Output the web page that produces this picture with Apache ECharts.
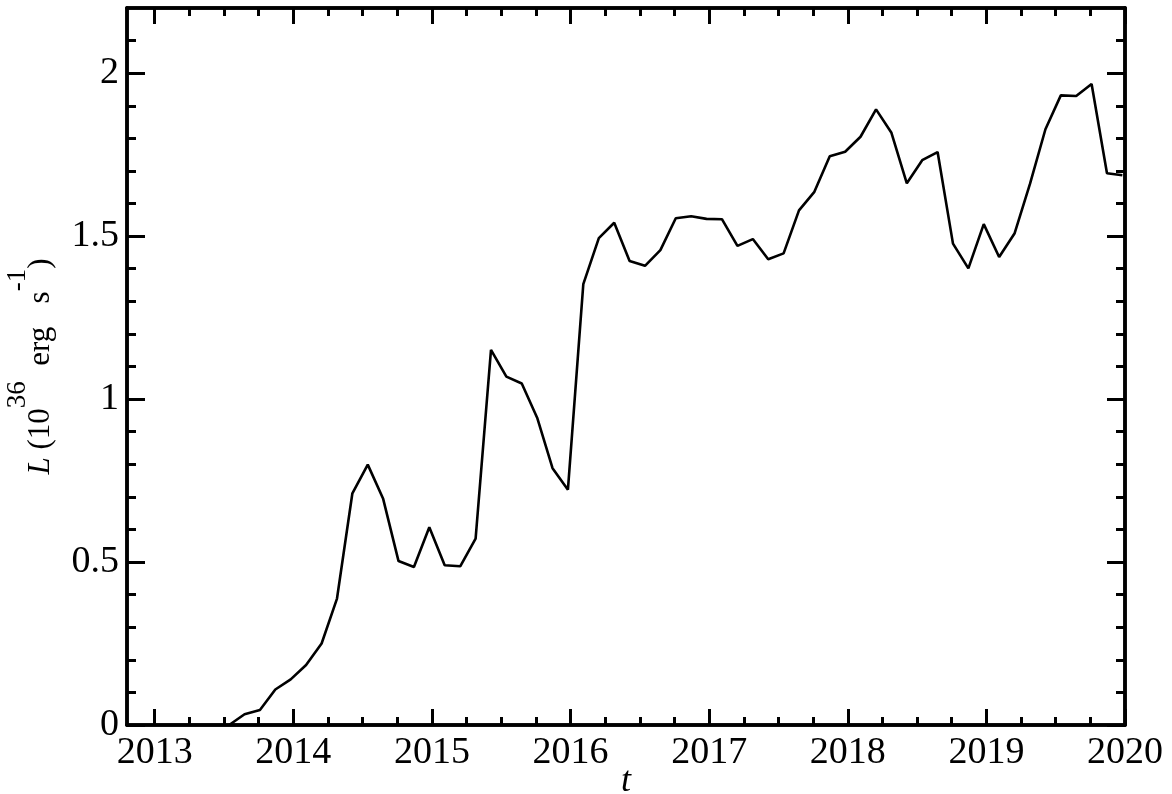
<!DOCTYPE html>
<html>
<head>
<meta charset="utf-8">
<script src="https://cdn.jsdelivr.net/npm/echarts@6/dist/echarts.min.js"></script>
<style>
html,body{margin:0;padding:0;background:#fff;}
#chart{width:1172px;height:794px;}
</style>
</head>
<body>
<div id="chart"></div>
<script>
// time in years
const times = [2013.537, 2013.648, 2013.759, 2013.870, 2013.981, 2014.092, 2014.204, 2014.315, 2014.426, 2014.537,
  2014.648, 2014.759, 2014.870, 2014.981, 2015.092, 2015.204, 2015.315, 2015.426, 2015.537, 2015.648,
  2015.759, 2015.870, 2015.981, 2016.092, 2016.204, 2016.315, 2016.426, 2016.537, 2016.648, 2016.759,
  2016.870, 2016.981, 2017.092, 2017.204, 2017.315, 2017.426, 2017.537, 2017.648, 2017.759, 2017.870,
  2017.981, 2018.092, 2018.204, 2018.315, 2018.426, 2018.537, 2018.648, 2018.759, 2018.870, 2018.981,
  2019.092, 2019.204, 2019.315, 2019.426, 2019.537, 2019.648, 2019.759, 2019.870, 2019.981];
// luminosity, 10^36 erg/s
const lum = [0.000, 0.033, 0.046, 0.109, 0.140, 0.184, 0.250, 0.388, 0.711, 0.799,
  0.694, 0.503, 0.485, 0.607, 0.490, 0.487, 0.572, 1.151, 1.069, 1.048,
  0.943, 0.788, 0.722, 1.353, 1.494, 1.541, 1.424, 1.409, 1.457, 1.555,
  1.561, 1.553, 1.552, 1.470, 1.491, 1.429, 1.447, 1.579, 1.636, 1.745,
  1.759, 1.805, 1.889, 1.817, 1.662, 1.733, 1.758, 1.477, 1.401, 1.537,
  1.436, 1.509, 1.661, 1.828, 1.932, 1.930, 1.967, 1.693, 1.687];
const xMajor = [2013, 2014, 2015, 2016, 2017, 2018, 2019, 2020];
const yMajor = [0, 0.5, 1, 1.5, 2];
const yLabels = ['0', '0.5', '1', '1.5', '2'];

const xMinor = [];
for (let y = 2013; y < 2020; y++) { xMinor.push(y + 0.25, y + 0.5, y + 0.75); }
const yMinor = [];
for (let i = 1; i <= 21; i++) { if (i % 5 !== 0) yMinor.push(+(i / 10).toFixed(1)); }

const FONT = 'Liberation Serif';
const X_MIN = 2012.8, X_MAX = 2020, Y_MIN = 0, Y_MAX = 2.2;
const axisLineStyle = { color: '#000', width: 3.5 };

function xAx(pos, ticks, len, labels, extra) {
  return Object.assign({
    type: 'value', position: pos, min: X_MIN, max: X_MAX,
    axisLine: { show: true, onZero: false, lineStyle: axisLineStyle },
    axisTick: { show: true, inside: true, length: len, customValues: ticks, lineStyle: { color: '#000', width: 3 } },
    axisLabel: labels ? { show: true, customValues: xMajor, margin: 9, fontFamily: FONT, fontSize: 38, color: '#000',
      formatter: v => String(Math.round(v)) } : { show: false },
    splitLine: { show: false }
  }, extra || {});
}
function yAx(pos, ticks, len, labels, extra) {
  return Object.assign({
    type: 'value', position: pos, min: Y_MIN, max: Y_MAX,
    axisLine: { show: true, onZero: false, lineStyle: axisLineStyle },
    axisTick: { show: true, inside: true, length: len, customValues: ticks, lineStyle: { color: '#000', width: 3 } },
    axisLabel: labels ? { show: true, customValues: yMajor, margin: 8, fontFamily: FONT, fontSize: 38, color: '#000',
      formatter: v => yLabels[yMajor.findIndex(m => Math.abs(m - v) < 1e-6)] } : { show: false },
    splitLine: { show: false }
  }, extra || {});
}

const chart = echarts.init(document.getElementById('chart'), null, { renderer: 'canvas' });
chart.setOption({
  backgroundColor: '#fff',
  animation: false,
  grid: { left: 127, right: 47, top: 8, bottom: 69, containLabel: false, outerBoundsMode: 'none' },
  xAxis: [
    xAx('bottom', xMajor, 16, true, {
      name: 't', nameLocation: 'middle', nameGap: 39, nameMoveOverlap: false,
      nameTextStyle: { fontFamily: FONT, fontSize: 36, fontStyle: 'italic', color: '#000' }
    }),
    xAx('bottom', xMinor, 8, false),
    xAx('top', xMajor, 16, false),
    xAx('top', xMinor, 8, false)
  ],
  yAxis: [
    yAx('left', yMajor, 18, true, {
      name: '{it|L} (10{sup|36}{m|  erg   s}{sup|-1}{m|)}', nameLocation: 'middle', nameGap: 50, nameRotate: 90,
      nameMoveOverlap: false,
      nameTextStyle: {
        fontFamily: FONT, fontSize: 31, color: '#000',
        rich: {
          it: { fontFamily: FONT, fontSize: 31, fontStyle: 'italic', color: '#000' },
          m: { fontFamily: FONT, fontSize: 31, color: '#000' },
          sup: { fontFamily: FONT, fontSize: 27, color: '#000', padding: [0, 0, 46, 0] }
        }
      }
    }),
    yAx('left', yMinor, 9, false),
    yAx('right', yMajor, 18, false),
    yAx('right', yMinor, 9, false)
  ],
  series: [{
    type: 'line',
    xAxisIndex: 0, yAxisIndex: 0,
    data: times.map((t, i) => [t, lum[i]]),
    showSymbol: false, symbol: 'none',
    lineStyle: { color: '#000', width: 2.6 },
    clip: true
  }]
});
</script>
</body>
</html>
